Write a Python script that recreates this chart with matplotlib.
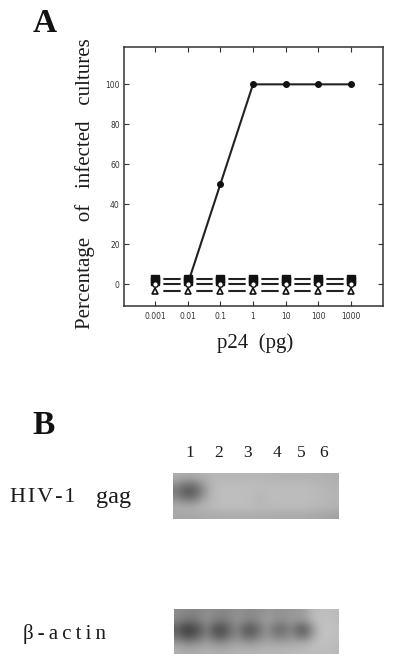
import matplotlib
matplotlib.use('Agg')
import matplotlib.pyplot as plt
import numpy as np

W, H = 400, 672
THIN = '\u2009'
HAIR = '\u200a'

# panel A data
doses = ['0.001', '0.01', '0.1', '1', '10', '100', '1000']
infected = [None, 0, 50, 100, 100, 100, 100]
squares = [2.5, 2.5, 2.5, 2.5, 2.5, 2.5, 2.5]
squares_low = [1.5, 1.5, 1.5, 1.5, 1.5, 1.5, 1.5]
circles_open = [0, 0, 0, 0, 0, 0, 0]
triangles = [-3.5, -3.5, -3.5, -3.5, -3.5, -3.5, -3.5]
yticks = [0, 20, 40, 60, 80, 100]

# panel B, gray levels (0-255)
lanes = ['1', '2', '3', '4', '5', '6']
lane_x = [190, 219, 248, 277, 301, 324]
gag_blot = [
    [176, 172, 170, 176, 180, 182, 182, 182, 182, 182, 182, 182, 180, 180, 178, 178, 178, 178, 178, 178, 176, 174],
    [140, 118, 115, 135, 168, 184, 188, 188, 188, 188, 188, 188, 186, 186, 186, 186, 186, 186, 184, 182, 180, 178],
    [118,  88,  84, 115, 162, 186, 190, 190, 190, 190, 188, 186, 188, 188, 188, 188, 188, 188, 186, 184, 182, 180],
    [148, 130, 126, 150, 175, 186, 190, 190, 190, 190, 186, 178, 186, 188, 188, 188, 188, 188, 186, 184, 182, 180],
    [174, 176, 176, 180, 184, 186, 188, 188, 188, 188, 188, 186, 186, 186, 186, 186, 186, 186, 184, 182, 180, 178],
    [165, 166, 166, 168, 170, 170, 172, 172, 172, 172, 172, 172, 170, 170, 170, 170, 170, 170, 168, 166, 164, 162],
]
actin_blot = [
    [140, 135, 132, 136, 142, 136, 134, 138, 144, 140, 138, 144, 150, 148, 146, 150, 154, 160, 184, 190, 190, 186],
    [135, 118, 118, 130, 146, 128, 124, 134, 150, 136, 132, 146, 160, 148, 144, 154, 152, 156, 184, 192, 192, 188],
    [ 95,  66,  68,  98, 125,  82,  78, 112, 132,  92,  88, 122, 146, 112, 108, 134, 102,  96, 152, 190, 194, 190],
    [105,  76,  78, 104, 130,  90,  86, 116, 138, 102, 100, 128, 150, 124, 120, 142, 116, 110, 156, 190, 194, 190],
    [150, 136, 136, 148, 156, 144, 142, 152, 160, 152, 152, 160, 166, 164, 162, 166, 170, 172, 186, 192, 192, 188],
    [176, 170, 170, 174, 176, 174, 172, 176, 178, 178, 178, 180, 182, 182, 182, 184, 184, 186, 188, 188, 188, 184],
]


def px_axes(left, top, right, bottom):
    return fig.add_axes([left / W, 1 - bottom / H, (right - left) / W, (bottom - top) / H])


def px_text(x, y, s, **kw):
    kw.setdefault('family', 'Liberation Serif')
    kw.setdefault('color', '#1a1a1a')
    kw.setdefault('va', 'center')
    fig.text(x / W, 1 - y / H, s, **kw)


fig = plt.figure(figsize=(W / 100, H / 100), dpi=100)

# A
ax = px_axes(124, 47, 383, 306)
pos = np.arange(len(doses))
for vals in [squares, circles_open, triangles]:
    ax.plot(pos, vals, color='#222222', lw=1.5, zorder=2)
    ax.plot(pos, vals, ls='', marker='s', ms=10, color='white', zorder=3)
ax.plot(pos[1:], infected[1:], color='#222222', lw=1.5, zorder=4)
ax.plot(pos, squares, ls='', marker='s', ms=6, color='#111111', zorder=5)
ax.plot(pos, squares_low, ls='', marker='s', ms=6, color='#111111', zorder=5)
ax.plot(pos, circles_open, ls='', marker='o', ms=4, mfc='white', mec='#111111', mew=1.0, zorder=6)
ax.plot(pos, triangles, ls='', marker='^', ms=5, mfc='white', mec='#111111', mew=1.2, zorder=7)
ax.plot(pos[2:], infected[2:], ls='', marker='o', ms=4, color='#111111', zorder=8)

ax.set_xlim(-0.95, 6.98)
ax.set_ylim(-11, 118.7)
ax.set_xticks(pos)
ax.set_xticklabels(doses)
ax.set_yticks(yticks)
ax.tick_params(direction='in', top=True, right=True, length=3.5, width=0.8, labelsize=5.5,
               labelcolor='#333333', color='#333333', pad=3)
ax.tick_params(axis='x', pad=4)
for s in ax.spines.values():
    s.set_linewidth(1.1)
    s.set_color('#333333')

px_text(45, 23, 'A', size=24, weight='bold', ha='center', color='#111111')
px_text(255, 343, 'p24  (pg)', size=15, ha='center')
px_text(85, 184, 'Percentage   of   infected   cultures', size=15, rotation=90, ha='center')

# B
px_text(44, 425, 'B', size=24, weight='bold', ha='center', color='#111111')
for lane, x in zip(lanes, lane_x):
    px_text(x, 453, lane, size=12.5, ha='center')
px_text(10, 497, HAIR.join('HIV-1'), size=16, ha='left')
px_text(96, 497, 'gag', size=17.5, ha='left')
px_text(23, 634, THIN.join('\u03b2-actin'), size=15, ha='left')

for blot, box in [(gag_blot, (173, 473, 339, 519)), (actin_blot, (174, 609, 339, 654))]:
    b = px_axes(*box)
    b.imshow(np.array(blot), cmap='gray', vmin=0, vmax=255, aspect='auto', interpolation='bicubic')
    b.axis('off')

fig.savefig('out.png', dpi=100)
